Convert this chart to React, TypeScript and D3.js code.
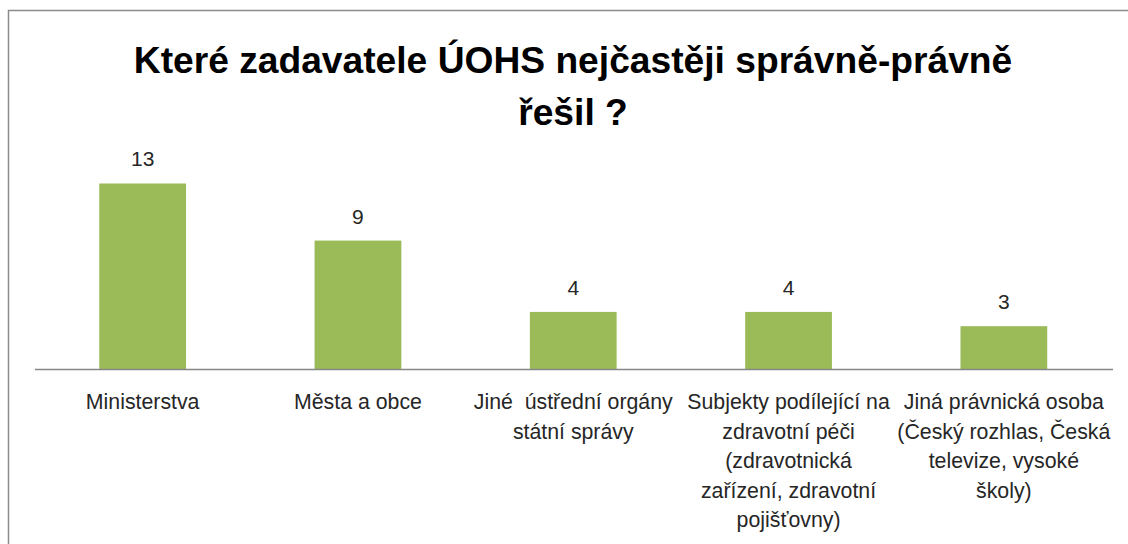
import * as d3 from 'd3';
import React, { useEffect, useRef } from 'react';

const titleLines = ['Které zadavatele ÚOHS nejčastěji správně-právně', 'řešil ?'];
const categories = ['Ministerstva', 'Města a obce', 'Jiné ústřední', 'Subjekty', 'Jiná právnická'];
const categoryLabels = [
  ['Ministerstva'],
  ['Města a obce'],
  ['Jiné  ústřední orgány', 'státní správy'],
  ['Subjekty podílející na', 'zdravotní péči', '(zdravotnická', 'zařízení, zdravotní', 'pojišťovny)'],
  ['Jiná právnická osoba', '(Český rozhlas, Česká', 'televize, vysoké', 'školy)'],
];
const values = [13, 9, 4, 4, 3];

function App() {
  const ref = useRef<SVGSVGElement>(null);

  useEffect(() => {
    const width = 1128;
    const height = 544;
    const baseY = 369;
    const font = '"Liberation Sans", Arial, sans-serif';

    const svg = d3.select(ref.current);
    svg.selectAll('*').remove();
    svg.attr('width', width).attr('height', height);

    svg.append('rect').attr('width', width).attr('height', height).attr('fill', '#fff');

    // chart frame (only left + top visible in the crop)
    svg.append('path')
      .attr('d', `M8.5,${height} V10.5 H${width}`)
      .attr('fill', 'none')
      .attr('stroke', '#8c8c8c')
      .attr('stroke-width', 1.5);

    const x = d3.scaleBand<string>()
      .domain(categories)
      .range([35, 1111.5])
      .paddingInner(0.597)
      .paddingOuter(0.2985);

    const y = d3.scaleLinear()
      .domain([0, 14])
      .range([baseY, baseY - 14 * 14.27]);

    // title
    svg.append('g')
      .selectAll('text')
      .data(titleLines)
      .enter()
      .append('text')
      .attr('x', 573)
      .attr('y', (d, i) => 73 + i * 52)
      .attr('text-anchor', 'middle')
      .attr('font-family', font)
      .attr('font-weight', 'bold')
      .attr('font-size', 37.2)
      .attr('fill', '#000')
      .text(d => d);

    // bars
    svg.append('g')
      .selectAll('rect')
      .data(values)
      .enter()
      .append('rect')
      .attr('x', (d, i) => x(categories[i])!)
      .attr('y', d => y(d))
      .attr('width', x.bandwidth())
      .attr('height', d => baseY - y(d))
      .attr('fill', '#9bbb59');

    // value labels
    svg.append('g')
      .selectAll('text')
      .data(values)
      .enter()
      .append('text')
      .attr('x', (d, i) => x(categories[i])! + x.bandwidth() / 2)
      .attr('y', d => y(d) - 17)
      .attr('text-anchor', 'middle')
      .attr('font-family', font)
      .attr('font-size', 21)
      .attr('fill', '#262626')
      .text(d => d);

    // axis line
    svg.append('line')
      .attr('x1', 35)
      .attr('x2', 1113)
      .attr('y1', baseY + 0.5)
      .attr('y2', baseY + 0.5)
      .attr('stroke', '#868686')
      .attr('stroke-width', 1.5);

    // category labels
    const labels = svg.append('g')
      .selectAll('text')
      .data(categoryLabels)
      .enter()
      .append('text')
      .attr('text-anchor', 'middle')
      .attr('font-family', font)
      .attr('font-size', 21.3)
      .attr('fill', '#262626')
      .style('white-space', 'pre');

    labels.each(function (lines, i) {
      const cx = x(categories[i])! + x.bandwidth() / 2;
      d3.select(this)
        .selectAll('tspan')
        .data(lines)
        .enter()
        .append('tspan')
        .attr('x', cx)
        .attr('y', (d, j) => 409 + j * 29.5)
        .text(d => d);
    });
  });

  return (
    <svg ref={ref} style={{ position: 'absolute', left: 0, top: 0, display: 'block' }} />
  );
}

export default App;
